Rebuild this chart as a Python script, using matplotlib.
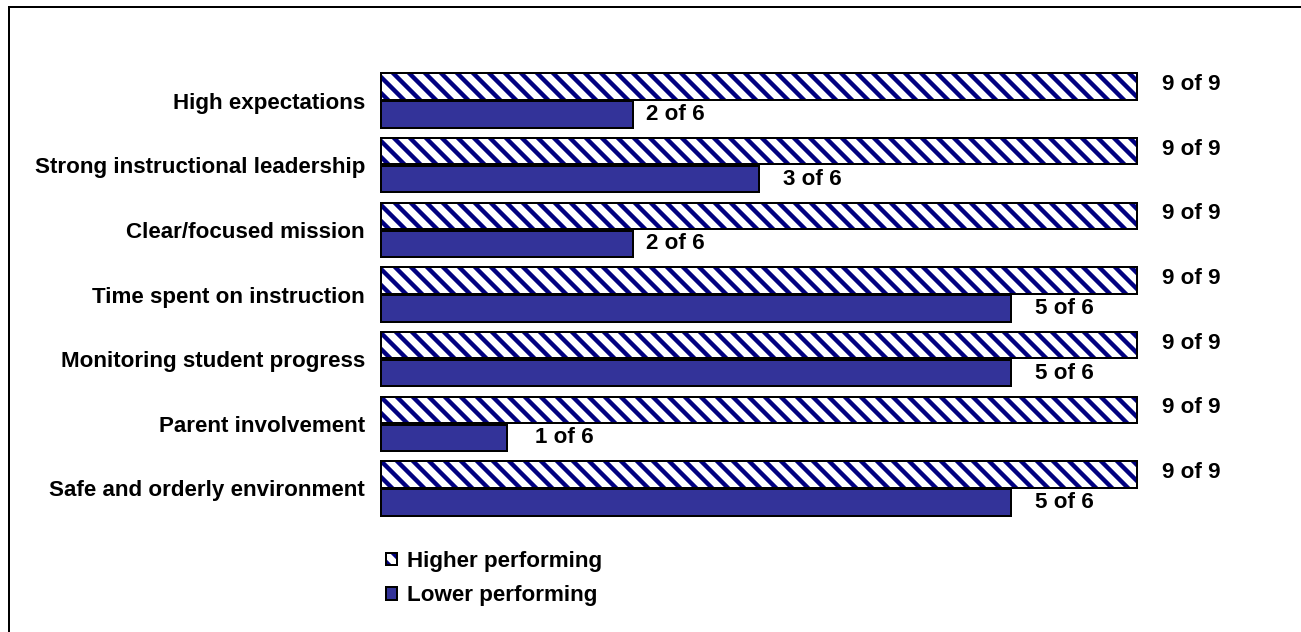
import numpy as np
import matplotlib
matplotlib.use("Agg")
import matplotlib.pyplot as plt
from matplotlib.patches import Patch, Rectangle
from matplotlib.legend_handler import HandlerTuple

# School characteristics and how many schools in each group showed them
categories = [
    "High expectations",
    "Strong instructional leadership",
    "Clear/focused mission",
    "Time spent on instruction",
    "Monitoring student progress",
    "Parent involvement",
    "Safe and orderly environment",
]
higher_count = [9, 9, 9, 9, 9, 9, 9]
higher_total = 9
lower_count = [2, 3, 2, 5, 5, 1, 5]
lower_total = 6
series_names = ["Higher performing", "Lower performing"]

W, H, DPI = 1301, 632, 144
NAVY = "#000080"
SOLID = "#333399"
FS = 11.2
HATCH = "\\" * 3

plt.rcParams["font.family"] = ["Liberation Sans", "DejaVu Sans"]
plt.rcParams["font.weight"] = "bold"
plt.rcParams["hatch.linewidth"] = 2.2

fig = plt.figure(figsize=(W / DPI, H / DPI), dpi=DPI)
ax = fig.add_axes([381 / W, 1 - 520.8 / H, 756 / W, 452.6 / H])

y = np.arange(len(categories))
hi = np.array(higher_count) / higher_total
lo = np.array(lower_count) / lower_total
off, h = 0.2165, 0.41

ax.barh(y - off, hi, height=h, color="white", hatch=HATCH, edgecolor=NAVY,
        linewidth=0, clip_on=False)
ax.barh(y - off, hi, height=h, fill=False, edgecolor="black", linewidth=1,
        clip_on=False)
ax.barh(y + off, lo, height=h, color=SOLID, edgecolor="black", linewidth=1,
        clip_on=False)

ax.set_xlim(0, 1)
ax.set_ylim(len(categories) - 0.5, -0.5)
ax.set_yticks(y, categories, fontsize=FS, fontweight="bold")
ax.tick_params(axis="y", length=0, pad=8)
ax.xaxis.set_visible(False)
for s in ax.spines.values():
    s.set_visible(False)

# value labels beside each bar (offsets in pixels)
lower_pad = [13, 24, 13, 24, 24, 28, 24]
for i in range(len(categories)):
    ax.annotate(f"{higher_count[i]} of {higher_total}", (hi[i], y[i] - off),
                xytext=(25, 2), textcoords="offset pixels",
                ha="left", va="center", fontsize=FS, fontweight="bold")
    ax.annotate(f"{lower_count[i]} of {lower_total}", (lo[i], y[i] + off),
                xytext=(lower_pad[i], 0), textcoords="offset pixels",
                ha="left", va="center", fontsize=FS, fontweight="bold",
                annotation_clip=False)

# legend with hatched and solid swatches
h_fill = Patch(facecolor="white", hatch=HATCH, edgecolor=NAVY, linewidth=0)
h_edge = Patch(facecolor="none", edgecolor="black", linewidth=1)
l_patch = Patch(facecolor=SOLID, edgecolor="black", linewidth=1)
fig.legend([(h_fill, h_edge), l_patch], series_names,
           handler_map={tuple: HandlerTuple(ndivide=1)},
           loc="upper left", bbox_to_anchor=(386 / W, 1 - 551 / H),
           frameon=False, borderpad=0, borderaxespad=0,
           handlelength=0.5, handleheight=0.5, handletextpad=0.45,
           labelspacing=0.59, prop={"size": FS, "weight": "bold"})

# outer frame
fig.patches.append(Rectangle((8.5 / W, -0.1), 1.2, 1 - 6.5 / H + 0.1,
                             transform=fig.transFigure, fill=False,
                             edgecolor="black", linewidth=1))

fig.savefig("out.png", dpi=DPI)
